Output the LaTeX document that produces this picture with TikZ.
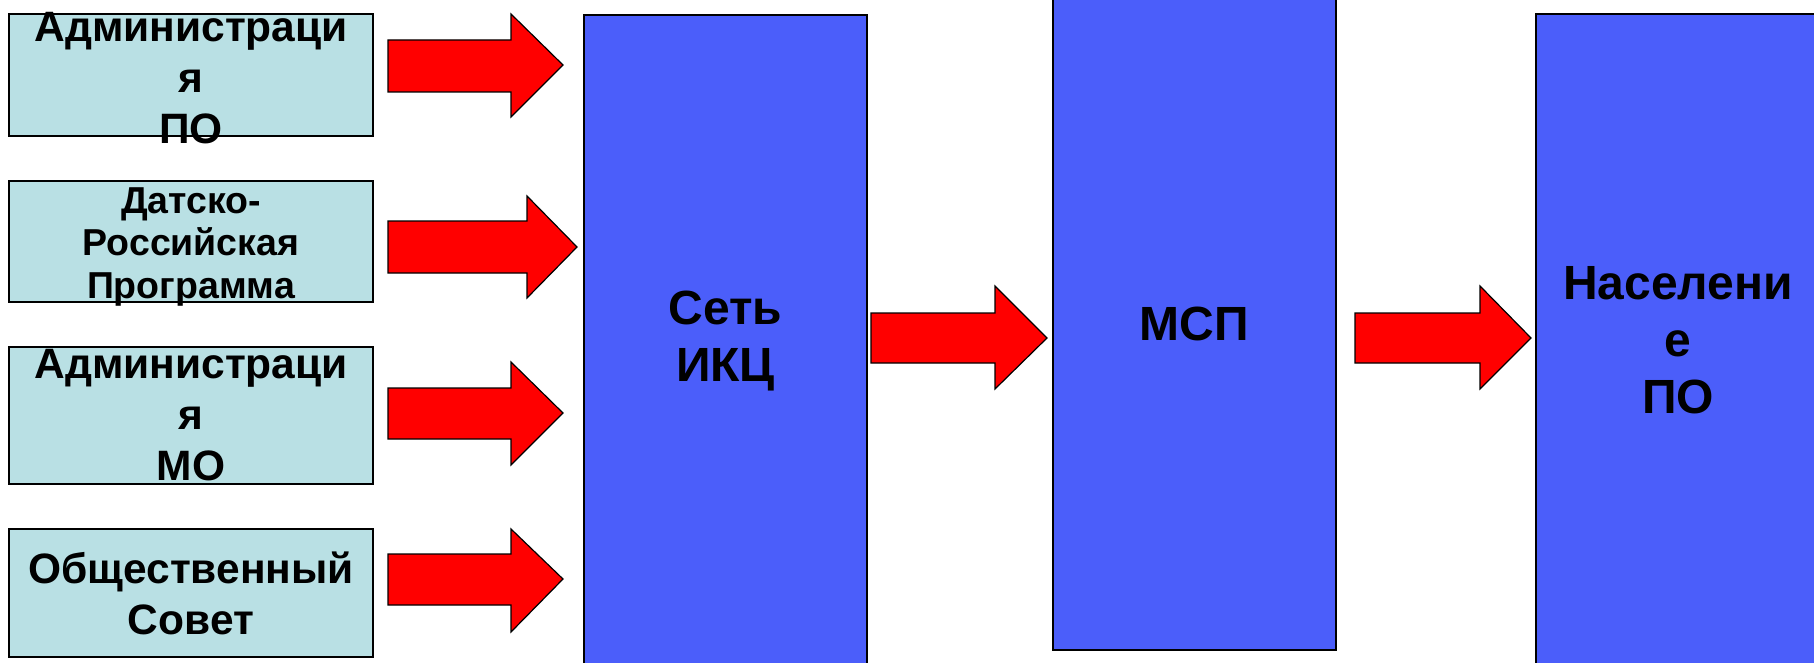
\documentclass[tikz,border=0pt]{standalone}
\usepackage{fontspec}
\setmainfont{Liberation Sans}
\definecolor{lightcy}{RGB}{185,224,228}
\definecolor{boxblue}{RGB}{75,94,250}
\definecolor{arrred}{RGB}{255,0,0}
\begin{document}
\begin{tikzpicture}[x=1pt,y=-1pt,
  leftbox/.style={draw=black, line width=2pt, fill=lightcy, minimum width=364pt, inner sep=0pt},
  bigbox/.style={draw=black, line width=2pt, fill=boxblue, minimum width=283pt, inner sep=0pt},
  ltxt/.style={align=center, font=\bfseries\fontsize{42.5}{51}\selectfont, inner sep=0pt},
  stxt/.style={align=center, font=\bfseries\fontsize{37.5}{42.5}\selectfont, inner sep=0pt},
  btxt/.style={align=center, font=\bfseries\fontsize{48}{57}\selectfont, inner sep=0pt},
  blockarrow/.style={draw=black, line width=1.2pt, fill=arrred, line join=miter}]
\useasboundingbox (0,0) rectangle (1814,663);
% left boxes
\node[leftbox, minimum height=122pt] (l1) at (191,75) {};
\node[ltxt] (t1) at ([yshift=-3pt]l1.center) {Администраци\\я\\ПО};
\node[leftbox, minimum height=121pt] (l2) at (191,241.5) {};
\node[stxt] (t2) at ([yshift=-5pt]l2.center) {Датско-\\Российская\\Программа};
\node[leftbox, minimum height=137pt] (l3) at (191,415.5) {};
\node[ltxt] (t3) at (l3.center) {Администраци\\я\\МО};
\node[leftbox, minimum height=128pt] (l4) at (191,593) {};
\node[ltxt] (t4) at (l4.center) {Общественный\\Совет};
% big boxes
\node[bigbox, minimum height=652pt] (ikc) at (725.5,341) {};
\node[btxt] at (ikc.center) {Сеть\\ИКЦ};
\node[bigbox, minimum height=652pt] (msp) at (1194.5,324) {};
\node[btxt] at (msp.center) {МСП};
\node[bigbox, minimum height=652pt, minimum width=284pt] (nas) at (1678,340) {};
\node[btxt] at (nas.center) {Населени\\е\\ПО};
% block arrows
\draw[blockarrow] (388,40) -- (511,40) -- (511,14) -- (563,65) -- (511,117) -- (511,92) -- (388,92) -- cycle;
\draw[blockarrow] (388,221) -- (527,221) -- (527,196) -- (577,247) -- (527,298) -- (527,273) -- (388,273) -- cycle;
\draw[blockarrow] (388,388) -- (511,388) -- (511,362) -- (563,413) -- (511,465) -- (511,439) -- (388,439) -- cycle;
\draw[blockarrow] (388,554) -- (511,554) -- (511,529) -- (563,579) -- (511,632) -- (511,605) -- (388,605) -- cycle;
\draw[blockarrow] (871,313) -- (995,313) -- (995,286) -- (1047,338) -- (995,389) -- (995,363) -- (871,363) -- cycle;
\draw[blockarrow] (1355,313) -- (1480,313) -- (1480,286) -- (1531,338) -- (1480,389) -- (1480,363) -- (1355,363) -- cycle;
\end{tikzpicture}
\end{document}
